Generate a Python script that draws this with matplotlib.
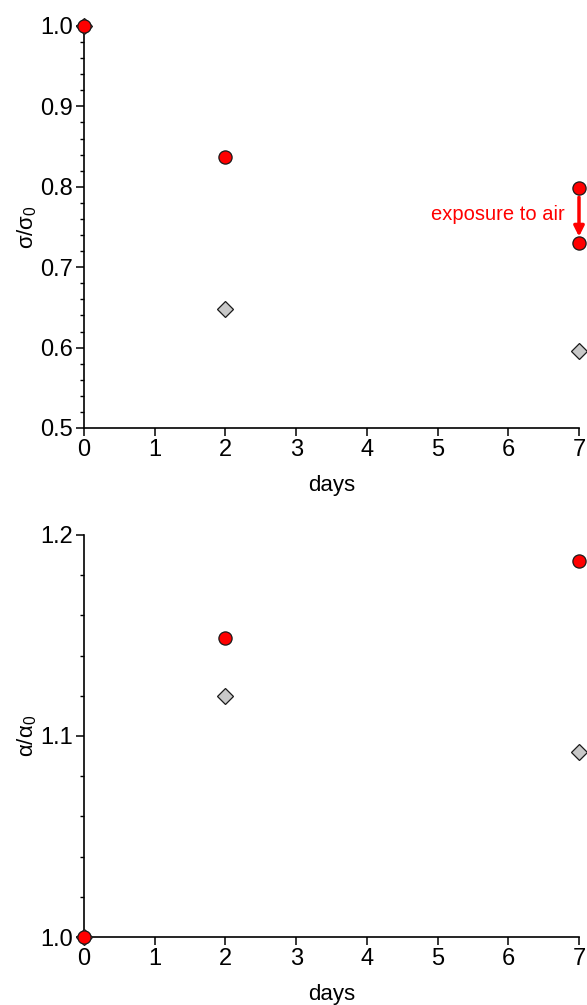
import matplotlib
matplotlib.use("Agg")
import matplotlib.pyplot as plt
from matplotlib.ticker import MultipleLocator

plt.rcParams['font.family'] = ['Liberation Sans', 'DejaVu Sans']
plt.rcParams['mathtext.fontset'] = 'custom'
plt.rcParams['mathtext.rm'] = 'Liberation Sans'
plt.rcParams['mathtext.it'] = 'Liberation Sans:italic'

days_red_top = [0, 2, 7, 7]
sigma_red = [1.0, 0.837, 0.799, 0.730]
days_gray_top = [0, 2, 7]
sigma_gray = [1.0, 0.648, 0.596]

days_red_bot = [0, 2, 7]
alpha_red = [1.0, 1.149, 1.187]
days_gray_bot = [0, 2, 7]
alpha_gray = [1.0, 1.120, 1.092]

xticks = [0, 1, 2, 3, 4, 5, 6, 7]

fig = plt.figure(figsize=(5.87, 10.05), dpi=100)
W, H = 587, 1005
ax1 = fig.add_axes([84 / W, 1 - 428 / H, 495 / W, 402 / H])
ax2 = fig.add_axes([84 / W, 1 - 937 / H, 495 / W, 402 / H])

fs = 17

def style(ax, ylim, major, minor, fmt):
    ax.set_xlim(0, 7)
    ax.set_ylim(*ylim)
    for s in ['top', 'right']:
        ax.spines[s].set_visible(False)
    for s in ['left', 'bottom']:
        ax.spines[s].set_linewidth(1.2)
    ax.set_xticks(xticks)
    ax.yaxis.set_major_locator(MultipleLocator(major))
    ax.yaxis.set_minor_locator(MultipleLocator(minor))
    ax.yaxis.set_major_formatter(matplotlib.ticker.FormatStrFormatter(fmt))
    ax.tick_params(axis='both', which='major', direction='out', length=6, width=1.1, labelsize=fs, pad=2)
    ax.tick_params(axis='y', which='minor', direction='out', length=3, width=1.0)
    ax.set_xlabel('days', fontsize=16, labelpad=10)

style(ax1, (0.5, 1.0), 0.1, 0.02, '%.1f')
style(ax2, (1.0, 1.2), 0.1, 0.02, '%.1f')

mk = dict(linestyle='none', clip_on=False, markeredgecolor='#1a1a1a', markeredgewidth=0.9)
ax1.plot(days_gray_top, sigma_gray, marker='D', markersize=8.5, color='#c8c8c8', zorder=3, **mk)
ax1.plot(days_red_top, sigma_red, marker='o', markersize=9.5, color='#ff0000', zorder=4, **mk)
ax2.plot(days_gray_bot, alpha_gray, marker='D', markersize=8.5, color='#c8c8c8', zorder=3, **mk)
ax2.plot(days_red_bot, alpha_red, marker='o', markersize=9.5, color='#ff0000', zorder=4, **mk)

ax1.annotate('', xy=(7, sigma_red[3] + 0.008), xytext=(7, sigma_red[2] - 0.012),
             arrowprops=dict(arrowstyle='-|>', color='#ff0000', lw=2.5, mutation_scale=15,
                             shrinkA=0, shrinkB=0))
ax1.text(6.80, 0.765, 'exposure to air', color='#ff0000', fontsize=14.5,
         ha='right', va='center')

ax1.set_ylabel(r'$\mathregular{\sigma/\sigma_0}$', fontsize=16, labelpad=1)
ax2.set_ylabel(r'$\mathregular{\alpha/\alpha_0}$', fontsize=16, labelpad=1)

fig.savefig('out.png', dpi=100)
